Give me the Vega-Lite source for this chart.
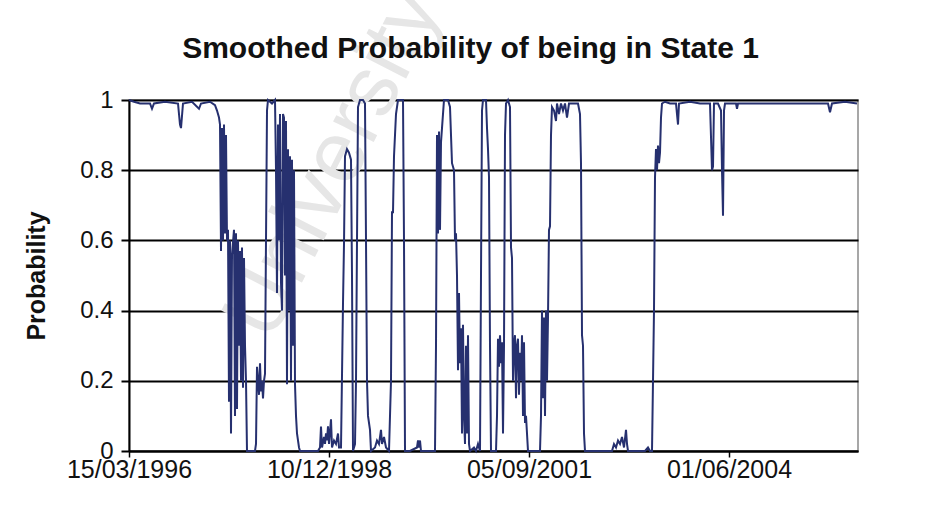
{
  "$schema": "https://vega.github.io/schema/vega-lite/v6.json",
  "width": 729,
  "height": 351,
  "autosize": {"type": "none"},
  "padding": {"left": 129, "top": 100, "right": 80, "bottom": 74},
  "background": "white",
  "config": {
    "view": {"stroke": "#8a8a8a", "strokeWidth": 1.5},
    "font": "Liberation Sans"
  },
  "title": {
    "text": "Smoothed Probability of being in State 1",
    "font": "Liberation Sans",
    "fontSize": 30,
    "fontWeight": "bold",
    "color": "#111111",
    "anchor": "middle",
    "offset": 36,
    "dy": 125,
    "dx": -23
  },
  "layer": [
    {
      "data": {"values": [{"label": "University"}]},
      "mark": {
        "type": "text",
        "angle": -63,
        "fontSize": 86,
        "font": "Liberation Sans",
        "color": "#e6e6e6",
        "clip": false
      },
      "encoding": {
        "text": {"field": "label", "type": "nominal"},
        "x": {"datum": {"year": 1999, "month": 1, "date": 2, "utc": true}, "type": "temporal"},
        "y": {"datum": 0.82, "type": "quantitative"}
      }
    },
    {
      "data": {
        "values": [
          {"date": "1996-03-15", "p": 1.0},
          {"date": "1996-04-09", "p": 0.995},
          {"date": "1996-05-09", "p": 0.99},
          {"date": "1996-06-28", "p": 0.99},
          {"date": "1996-07-08", "p": 0.975},
          {"date": "1996-07-18", "p": 0.99},
          {"date": "1996-09-11", "p": 0.995},
          {"date": "1996-11-15", "p": 0.99},
          {"date": "1996-11-25", "p": 0.93},
          {"date": "1996-11-30", "p": 0.92},
          {"date": "1996-12-10", "p": 0.99},
          {"date": "1997-01-24", "p": 0.995},
          {"date": "1997-02-28", "p": 0.975},
          {"date": "1997-03-10", "p": 0.99},
          {"date": "1997-04-24", "p": 0.995},
          {"date": "1997-05-19", "p": 0.985},
          {"date": "1997-05-29", "p": 0.97},
          {"date": "1997-06-08", "p": 0.95},
          {"date": "1997-06-13", "p": 0.93},
          {"date": "1997-06-18", "p": 0.57},
          {"date": "1997-06-23", "p": 0.92},
          {"date": "1997-06-28", "p": 0.6},
          {"date": "1997-07-03", "p": 0.93},
          {"date": "1997-07-08", "p": 0.62},
          {"date": "1997-07-13", "p": 0.9},
          {"date": "1997-07-18", "p": 0.6},
          {"date": "1997-07-23", "p": 0.63},
          {"date": "1997-07-28", "p": 0.14},
          {"date": "1997-08-02", "p": 0.6},
          {"date": "1997-08-07", "p": 0.05},
          {"date": "1997-08-12", "p": 0.56},
          {"date": "1997-08-22", "p": 0.63},
          {"date": "1997-08-27", "p": 0.1},
          {"date": "1997-09-01", "p": 0.62},
          {"date": "1997-09-06", "p": 0.12},
          {"date": "1997-09-11", "p": 0.6},
          {"date": "1997-09-16", "p": 0.3},
          {"date": "1997-09-21", "p": 0.57},
          {"date": "1997-09-26", "p": 0.2},
          {"date": "1997-10-01", "p": 0.58},
          {"date": "1997-10-06", "p": 0.18},
          {"date": "1997-10-11", "p": 0.55},
          {"date": "1997-10-16", "p": 0.3},
          {"date": "1997-10-21", "p": 0.2},
          {"date": "1997-10-26", "p": 0.0},
          {"date": "1997-11-10", "p": 0.0},
          {"date": "1997-12-05", "p": 0.0},
          {"date": "1997-12-10", "p": 0.02},
          {"date": "1997-12-15", "p": 0.24},
          {"date": "1997-12-20", "p": 0.2},
          {"date": "1997-12-25", "p": 0.16},
          {"date": "1997-12-30", "p": 0.25},
          {"date": "1998-01-04", "p": 0.17},
          {"date": "1998-01-09", "p": 0.2},
          {"date": "1998-01-14", "p": 0.15},
          {"date": "1998-01-19", "p": 0.2},
          {"date": "1998-01-24", "p": 0.22},
          {"date": "1998-01-29", "p": 0.6},
          {"date": "1998-02-03", "p": 0.97},
          {"date": "1998-02-08", "p": 1.0},
          {"date": "1998-02-28", "p": 0.99},
          {"date": "1998-03-15", "p": 1.0},
          {"date": "1998-03-20", "p": 0.8},
          {"date": "1998-03-25", "p": 0.45},
          {"date": "1998-03-30", "p": 0.93},
          {"date": "1998-04-04", "p": 0.6},
          {"date": "1998-04-09", "p": 0.96},
          {"date": "1998-04-14", "p": 0.48},
          {"date": "1998-04-19", "p": 0.4},
          {"date": "1998-04-24", "p": 0.96},
          {"date": "1998-04-29", "p": 0.95},
          {"date": "1998-05-04", "p": 0.5},
          {"date": "1998-05-09", "p": 0.94},
          {"date": "1998-05-14", "p": 0.19},
          {"date": "1998-05-19", "p": 0.86},
          {"date": "1998-05-24", "p": 0.4},
          {"date": "1998-05-29", "p": 0.84},
          {"date": "1998-06-03", "p": 0.2},
          {"date": "1998-06-08", "p": 0.83},
          {"date": "1998-06-13", "p": 0.3},
          {"date": "1998-06-18", "p": 0.8},
          {"date": "1998-06-23", "p": 0.19},
          {"date": "1998-06-28", "p": 0.1},
          {"date": "1998-07-03", "p": 0.05},
          {"date": "1998-07-13", "p": 0.01},
          {"date": "1998-07-18", "p": 0.0},
          {"date": "1998-10-16", "p": 0.0},
          {"date": "1998-10-26", "p": 0.01},
          {"date": "1998-10-31", "p": 0.07},
          {"date": "1998-11-05", "p": 0.01},
          {"date": "1998-11-15", "p": 0.04},
          {"date": "1998-11-20", "p": 0.02},
          {"date": "1998-11-25", "p": 0.05},
          {"date": "1998-11-30", "p": 0.03},
          {"date": "1998-12-05", "p": 0.07},
          {"date": "1998-12-10", "p": 0.02},
          {"date": "1998-12-20", "p": 0.09},
          {"date": "1998-12-25", "p": 0.01},
          {"date": "1999-01-04", "p": 0.03},
          {"date": "1999-01-14", "p": 0.02},
          {"date": "1999-01-24", "p": 0.05},
          {"date": "1999-01-29", "p": 0.01},
          {"date": "1999-02-08", "p": 0.01},
          {"date": "1999-02-18", "p": 0.42},
          {"date": "1999-02-23", "p": 0.59},
          {"date": "1999-02-28", "p": 0.84},
          {"date": "1999-03-10", "p": 0.86},
          {"date": "1999-03-20", "p": 0.85},
          {"date": "1999-03-30", "p": 0.83},
          {"date": "1999-04-04", "p": 0.5},
          {"date": "1999-04-09", "p": 0.0},
          {"date": "1999-04-19", "p": 0.02},
          {"date": "1999-04-24", "p": 0.2},
          {"date": "1999-04-29", "p": 0.6},
          {"date": "1999-05-04", "p": 0.98},
          {"date": "1999-05-14", "p": 1.0},
          {"date": "1999-05-29", "p": 1.0},
          {"date": "1999-06-08", "p": 0.99},
          {"date": "1999-06-13", "p": 0.6},
          {"date": "1999-06-18", "p": 0.2},
          {"date": "1999-06-23", "p": 0.1},
          {"date": "1999-07-03", "p": 0.06},
          {"date": "1999-07-08", "p": 0.0},
          {"date": "1999-07-28", "p": 0.01},
          {"date": "1999-08-07", "p": 0.03},
          {"date": "1999-08-17", "p": 0.02},
          {"date": "1999-08-27", "p": 0.06},
          {"date": "1999-09-01", "p": 0.02},
          {"date": "1999-09-11", "p": 0.04},
          {"date": "1999-09-21", "p": 0.01},
          {"date": "1999-10-06", "p": 0.0},
          {"date": "1999-10-16", "p": 0.2},
          {"date": "1999-10-21", "p": 0.68},
          {"date": "1999-10-26", "p": 0.68},
          {"date": "1999-10-31", "p": 0.84},
          {"date": "1999-11-10", "p": 0.96},
          {"date": "1999-11-20", "p": 1.0},
          {"date": "1999-12-15", "p": 1.0},
          {"date": "1999-12-20", "p": 0.6},
          {"date": "1999-12-25", "p": 0.0},
          {"date": "2000-01-19", "p": 0.0},
          {"date": "2000-02-23", "p": 0.01},
          {"date": "2000-02-28", "p": 0.03},
          {"date": "2000-03-04", "p": 0.01},
          {"date": "2000-03-09", "p": 0.03},
          {"date": "2000-03-14", "p": 0.0},
          {"date": "2000-05-23", "p": 0.0},
          {"date": "2000-05-28", "p": 0.3},
          {"date": "2000-06-02", "p": 0.9},
          {"date": "2000-06-07", "p": 0.62},
          {"date": "2000-06-12", "p": 0.91},
          {"date": "2000-06-17", "p": 0.63},
          {"date": "2000-06-22", "p": 0.88},
          {"date": "2000-06-27", "p": 0.92},
          {"date": "2000-07-07", "p": 1.0},
          {"date": "2000-07-27", "p": 1.0},
          {"date": "2000-08-06", "p": 0.98},
          {"date": "2000-08-16", "p": 0.82},
          {"date": "2000-08-26", "p": 0.8},
          {"date": "2000-08-31", "p": 0.6},
          {"date": "2000-09-05", "p": 0.62},
          {"date": "2000-09-10", "p": 0.5},
          {"date": "2000-09-15", "p": 0.23},
          {"date": "2000-09-20", "p": 0.45},
          {"date": "2000-09-25", "p": 0.25},
          {"date": "2000-09-30", "p": 0.35},
          {"date": "2000-10-05", "p": 0.05},
          {"date": "2000-10-10", "p": 0.36},
          {"date": "2000-10-15", "p": 0.1},
          {"date": "2000-10-20", "p": 0.02},
          {"date": "2000-10-25", "p": 0.3},
          {"date": "2000-10-30", "p": 0.05},
          {"date": "2000-11-04", "p": 0.33},
          {"date": "2000-11-09", "p": 0.02},
          {"date": "2000-11-14", "p": 0.0},
          {"date": "2000-12-04", "p": 0.01},
          {"date": "2000-12-14", "p": 0.0},
          {"date": "2000-12-24", "p": 0.02},
          {"date": "2001-01-03", "p": 0.0},
          {"date": "2001-01-08", "p": 0.5},
          {"date": "2001-01-13", "p": 0.97},
          {"date": "2001-01-18", "p": 1.0},
          {"date": "2001-02-02", "p": 1.0},
          {"date": "2001-02-07", "p": 0.92},
          {"date": "2001-02-12", "p": 0.86},
          {"date": "2001-02-17", "p": 0.78},
          {"date": "2001-02-22", "p": 0.3},
          {"date": "2001-02-27", "p": 0.0},
          {"date": "2001-03-24", "p": 0.0},
          {"date": "2001-03-29", "p": 0.1},
          {"date": "2001-04-03", "p": 0.32},
          {"date": "2001-04-08", "p": 0.24},
          {"date": "2001-04-13", "p": 0.33},
          {"date": "2001-04-18", "p": 0.25},
          {"date": "2001-04-23", "p": 0.31},
          {"date": "2001-04-28", "p": 0.05},
          {"date": "2001-05-03", "p": 0.3},
          {"date": "2001-05-08", "p": 0.9},
          {"date": "2001-05-13", "p": 0.99},
          {"date": "2001-05-23", "p": 1.0},
          {"date": "2001-06-02", "p": 0.98},
          {"date": "2001-06-07", "p": 0.58},
          {"date": "2001-06-12", "p": 0.55},
          {"date": "2001-06-17", "p": 0.2},
          {"date": "2001-06-22", "p": 0.3},
          {"date": "2001-06-27", "p": 0.33},
          {"date": "2001-07-02", "p": 0.15},
          {"date": "2001-07-07", "p": 0.3},
          {"date": "2001-07-12", "p": 0.32},
          {"date": "2001-07-17", "p": 0.16},
          {"date": "2001-07-22", "p": 0.28},
          {"date": "2001-07-27", "p": 0.2},
          {"date": "2001-08-01", "p": 0.33},
          {"date": "2001-08-06", "p": 0.1},
          {"date": "2001-08-11", "p": 0.31},
          {"date": "2001-08-16", "p": 0.08},
          {"date": "2001-08-21", "p": 0.1},
          {"date": "2001-08-26", "p": 0.05},
          {"date": "2001-08-31", "p": 0.0},
          {"date": "2001-10-30", "p": 0.0},
          {"date": "2001-11-04", "p": 0.1},
          {"date": "2001-11-09", "p": 0.4},
          {"date": "2001-11-14", "p": 0.15},
          {"date": "2001-11-19", "p": 0.38},
          {"date": "2001-11-24", "p": 0.1},
          {"date": "2001-11-29", "p": 0.4},
          {"date": "2001-12-04", "p": 0.2},
          {"date": "2001-12-09", "p": 0.38},
          {"date": "2001-12-14", "p": 0.63},
          {"date": "2001-12-19", "p": 0.64},
          {"date": "2001-12-24", "p": 0.9},
          {"date": "2001-12-29", "p": 0.98},
          {"date": "2002-01-08", "p": 0.97},
          {"date": "2002-01-18", "p": 0.94},
          {"date": "2002-01-23", "p": 0.99},
          {"date": "2002-02-02", "p": 0.96},
          {"date": "2002-02-12", "p": 0.99},
          {"date": "2002-02-22", "p": 0.97},
          {"date": "2002-03-04", "p": 0.99},
          {"date": "2002-03-14", "p": 0.95},
          {"date": "2002-03-24", "p": 0.99},
          {"date": "2002-04-08", "p": 0.99},
          {"date": "2002-05-08", "p": 0.99},
          {"date": "2002-05-18", "p": 0.96},
          {"date": "2002-05-23", "p": 0.82},
          {"date": "2002-05-28", "p": 0.33},
          {"date": "2002-06-02", "p": 0.3},
          {"date": "2002-06-07", "p": 0.05},
          {"date": "2002-06-12", "p": 0.0},
          {"date": "2002-10-25", "p": 0.0},
          {"date": "2002-11-04", "p": 0.02},
          {"date": "2002-11-14", "p": 0.01},
          {"date": "2002-11-24", "p": 0.03},
          {"date": "2002-12-04", "p": 0.02},
          {"date": "2002-12-14", "p": 0.04},
          {"date": "2002-12-24", "p": 0.01},
          {"date": "2003-01-03", "p": 0.06},
          {"date": "2003-01-08", "p": 0.02},
          {"date": "2003-01-13", "p": 0.0},
          {"date": "2003-04-08", "p": 0.0},
          {"date": "2003-04-23", "p": 0.01},
          {"date": "2003-05-03", "p": 0.0},
          {"date": "2003-05-13", "p": 0.0},
          {"date": "2003-05-18", "p": 0.2},
          {"date": "2003-05-23", "p": 0.4},
          {"date": "2003-05-28", "p": 0.78},
          {"date": "2003-06-02", "p": 0.86},
          {"date": "2003-06-07", "p": 0.8},
          {"date": "2003-06-12", "p": 0.87},
          {"date": "2003-06-17", "p": 0.82},
          {"date": "2003-06-22", "p": 0.85},
          {"date": "2003-06-27", "p": 0.95},
          {"date": "2003-07-02", "p": 0.99},
          {"date": "2003-07-17", "p": 0.995},
          {"date": "2003-08-11", "p": 0.99},
          {"date": "2003-09-10", "p": 0.99},
          {"date": "2003-09-15", "p": 0.96},
          {"date": "2003-09-20", "p": 0.93},
          {"date": "2003-09-25", "p": 0.99},
          {"date": "2003-11-19", "p": 0.995},
          {"date": "2004-01-08", "p": 0.99},
          {"date": "2004-02-27", "p": 0.99},
          {"date": "2004-03-08", "p": 0.8},
          {"date": "2004-03-13", "p": 0.81},
          {"date": "2004-03-18", "p": 0.99},
          {"date": "2004-04-07", "p": 0.99},
          {"date": "2004-04-22", "p": 0.97},
          {"date": "2004-04-27", "p": 0.8},
          {"date": "2004-05-02", "p": 0.67},
          {"date": "2004-05-07", "p": 0.97},
          {"date": "2004-05-12", "p": 0.99},
          {"date": "2004-07-06", "p": 0.99},
          {"date": "2004-07-11", "p": 0.975},
          {"date": "2004-07-16", "p": 0.99},
          {"date": "2005-04-02", "p": 0.99},
          {"date": "2005-07-11", "p": 0.99},
          {"date": "2005-10-09", "p": 0.99},
          {"date": "2005-10-19", "p": 0.965},
          {"date": "2005-10-29", "p": 0.99},
          {"date": "2006-01-02", "p": 0.995},
          {"date": "2006-03-03", "p": 0.99}
        ]
      },
      "mark": {"type": "line", "color": "#26306f", "strokeWidth": 2, "interpolate": "linear"},
      "encoding": {
        "x": {
          "field": "date",
          "type": "temporal",
          "scale": {
            "type": "utc",
            "domain": [
              {"year": 1996, "month": 3, "date": 15, "utc": true},
              {"year": 2006, "month": 3, "date": 8, "utc": true}
            ]
          },
          "axis": {
            "title": null,
            "values": [
              {"year": 1996, "month": 3, "date": 15, "utc": true},
              {"year": 1998, "month": 12, "date": 10, "utc": true},
              {"year": 2001, "month": 9, "date": 5, "utc": true},
              {"year": 2004, "month": 6, "date": 1, "utc": true}
            ],
            "format": "%d/%m/%Y",
            "grid": false,
            "domainColor": "#000000",
            "domainWidth": 2,
            "tickColor": "#000000",
            "tickWidth": 1.5,
            "tickSize": 6,
            "labelFont": "Liberation Sans",
            "labelFontSize": 25,
            "labelColor": "#111111",
            "labelPadding": 0,
            "labelFlush": false,
            "labelOverlap": false
          }
        },
        "y": {
          "field": "p",
          "type": "quantitative",
          "scale": {"domain": [0, 1], "nice": false, "zero": true},
          "axis": {
            "title": "Probability",
            "titleFont": "Liberation Sans",
            "titleFontSize": 25,
            "titleFontWeight": "bold",
            "titleColor": "#111111",
            "titlePadding": 30,
            "values": [0, 0.2, 0.4, 0.6, 0.8, 1],
            "format": "~g",
            "grid": true,
            "gridColor": "#000000",
            "gridWidth": 2,
            "gridOpacity": 1,
            "domainColor": "#000000",
            "domainWidth": 2,
            "tickColor": "#000000",
            "tickWidth": 2,
            "tickSize": 8,
            "labelFont": "Liberation Sans",
            "labelFontSize": 24,
            "labelColor": "#111111",
            "labelPadding": 8
          }
        }
      }
    }
  ]
}
